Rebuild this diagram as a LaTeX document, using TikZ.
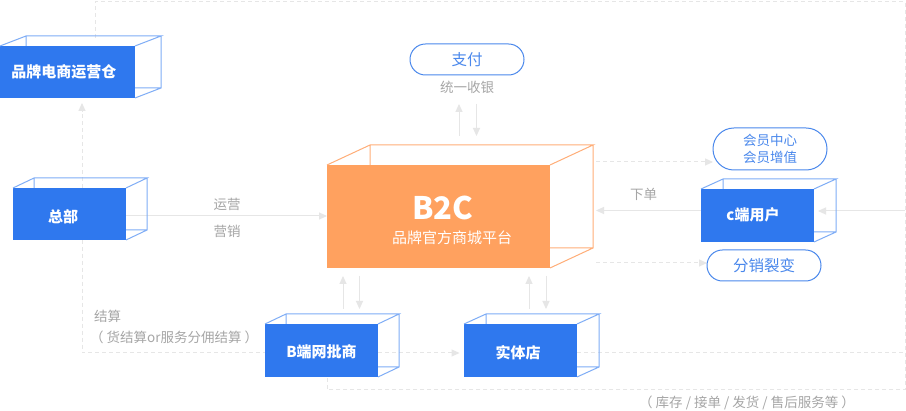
\documentclass[tikz,border=0pt]{standalone}
\usepackage{fontspec}
\setmainfont{Noto Sans CJK SC}
\usetikzlibrary{arrows.meta,calc,backgrounds}
\definecolor{boxblue}{HTML}{2F78EE}
\definecolor{wireblue}{HTML}{7FADF6}
\definecolor{boxorange}{HTML}{FFA15F}
\definecolor{wireorange}{HTML}{FFAE78}
\definecolor{linegray}{HTML}{E6E6E6}
\definecolor{textgray}{HTML}{A6A6A6}
\definecolor{pillblue}{HTML}{4A88EC}
\tikzset{
  front/.style={draw=none,fill=boxblue,text=white,font=\fontsize{15}{15}\selectfont\bfseries,inner sep=0pt,outer sep=0pt},
  pill/.style={draw=pillblue,line width=1pt,rounded corners=15.4pt,fill=white,text=pillblue,inner sep=0pt,outer sep=0pt,align=center,font=\fontsize{15.5}{17}\selectfont},
  captext/.style={text=textgray,inner sep=0pt,font=\fontsize{13.5}{16}\selectfont},
  solidlink/.style={draw=linegray,line width=1pt,-{Stealth[length=8pt,width=7pt,inset=0pt]}},
  dashlink/.style={draw=linegray,line width=1pt,dash pattern=on 4pt off 3pt,-{Stealth[length=8pt,width=7pt,inset=0pt]}},
  dashplain/.style={draw=linegray,line width=1pt,dash pattern=on 4pt off 3pt},
}
% box label: shift by #1 horizontally and #2 vertically from the centre of the box
\newcommand{\boxlabel}[3]{\kern#1pt\kern#1pt\raisebox{\dimexpr-#2pt-0.36em\relax}[0pt][0pt]{#3}}
% wire-frame depth of a box: node, depth x, depth y, colour
\newcommand{\cuboid}[4]{%
  \coordinate (#1-btl) at ($(#1.north west)+(#2,-#3)$);
  \coordinate (#1-btr) at ($(#1.north east)+(#2,-#3)$);
  \coordinate (#1-bbr) at ($(#1.south east)+(#2,-#3)$);
  \draw[#4,line width=1pt,line join=miter]
    (#1.north west) -- (#1-btl) -- (#1-btr) -- (#1.north east)
    (#1-btl) -- (#1-btl |- #1.north)
    (#1-btr) -- (#1-bbr) -- (#1.south east)
    (#1-bbr) -- (#1-bbr -| #1.east);
}
\begin{document}
\begin{tikzpicture}[x=1pt,y=-1pt]
\useasboundingbox (0,0) rectangle (906,411);

% boxes
\node[front,minimum width=135pt,minimum height=52pt] (cang) at (67.5,72) {\boxlabel{-3.5}{0}{品牌电商运营仓}};
\node[front,minimum width=113pt,minimum height=52pt] (hq) at (69.5,214) {\boxlabel{-6.5}{3}{总部}};
\node[front,fill=boxorange,minimum width=223pt,minimum height=103pt,font=\fontsize{15}{15}\selectfont] (b2c) at (438.5,216.5) {};
\node[front,minimum width=113pt,minimum height=53pt] (cuser) at (757.5,215.5) {\boxlabel{-4.5}{0}{c端用户}};
\node[front,minimum width=113pt,minimum height=53pt] (bshop) at (321.5,350.5) {\boxlabel{0}{1.5}{B端网批商}};
\node[front,minimum width=113pt,minimum height=53pt] (store) at (520.5,350.5) {\boxlabel{-2.5}{3}{实体店}};
\cuboid{cang}{26}{10}{wireblue}
\cuboid{hq}{21}{10}{wireblue}
\cuboid{b2c}{43}{20}{wireorange}
\cuboid{cuser}{22}{10}{wireblue}
\cuboid{bshop}{21}{10}{wireblue}
\cuboid{store}{22}{10}{wireblue}

% B2C texts
\node[text=white,inner sep=0pt,font=\fontsize{31}{31}\selectfont\bfseries] (b2ct) at (443,208) {B2C};
\node[text=white,inner sep=0pt,font=\fontsize{15}{15}\selectfont] (b2cs) at (452,238) {品牌官方商城平台};

% pills
\node[pill,minimum width=114pt,minimum height=31pt] (pay) at (467,59.5) {支付};
\node[pill,rounded corners=20.9pt,minimum width=114pt,minimum height=42pt,font=\fontsize{13.5}{17}\selectfont] (member) at (770,149) {会员中心\\会员增值};
\node[pill,minimum width=114pt,minimum height=31pt] (fen) at (764,265.5) {分销裂变};

% captions
\node[captext] (c1) at (467,87) {统一收银};
\node[captext] (c2) at (227,204) {运营};
\node[captext] (c3) at (227,231) {营销};
\node[captext] (c4) at (643.5,194) {下单};
\node[captext,anchor=west] (c5) at (94,316) {结算};
\node[captext,anchor=west] (c6) at (90,337) {（ 货结算or服务分佣结算 ）};
\node[captext] (c7) at (747,403) {（ 库存 / 接单 / 发货 / 售后服务等 ）};

% free ends
\coordinate (topstart) at (95,38);
\coordinate (topleft) at (95,2);
\coordinate (topright) at (905,2);
\coordinate (botright) at (905,390);
\coordinate (botleft) at (327,390);
\coordinate (lowmidL) at (82,353);
\coordinate (lowmidR) at (905,353);
\coordinate (sideR) at (905,211);
\coordinate (b2cR1) at (596,162);
\coordinate (b2cR2) at (596,263);
\coordinate (b2cR3) at (596,210.5);

\begin{scope}[on background layer]
\fill[white] (0,0) rectangle (906,411);
% dashed frames
\draw[dashplain] (topstart) -- (topleft) -- (topright) -- (botright) -- (botleft) -- (botleft |- bshop.south);
\draw[dashplain] (hq.south -| lowmidL) -- (lowmidL) -- (lowmidL -| bshop.west);
\draw[dashlink] (hq.north -| lowmidL) -- (82,103);
\draw[dashlink] (bshop.east |- lowmidL) -- (459.5,353);
\draw[dashplain] (store.east |- lowmidR) -- (lowmidR);
\draw[dashlink] (b2cR1) -- (b2cR1 -| member.west);
\draw[dashlink] (b2cR2) -- (b2cR2 -| fen.west);
% solid
\draw[solidlink] (hq.east |- 0,216) -- (b2c.west |- 0,216);
\draw[solidlink] (cuser.west |- b2cR3) -- (b2cR3);
\draw[solidlink] (sideR) -- (818,211);
\draw[solidlink] (459,136) -- (459,104);
\draw[solidlink] (476.5,104) -- (476.5,136);
\draw[solidlink] (343,309) -- (343,276);
\draw[solidlink] (359.5,276) -- (359.5,309);
\draw[solidlink] (529,309) -- (529,276);
\draw[solidlink] (546,276) -- (546,309);
\end{scope}
\end{tikzpicture}
\end{document}
